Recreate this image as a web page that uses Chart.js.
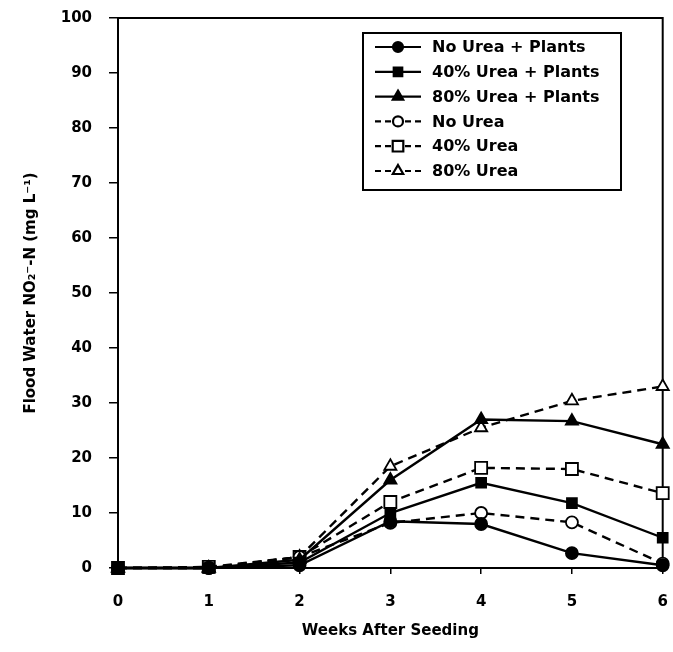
<!DOCTYPE html>
<html>
<head>
<meta charset="utf-8">
<script src="https://cdn.jsdelivr.net/npm/chart.js@4"></script>
<style>
  html, body { margin: 0; padding: 0; background: #fff; }
  #wrap { width: 673px; height: 652px; }
</style>
</head>
<body>
<div id="wrap"><canvas id="nitrit" width="673" height="652"></canvas></div>
<script>
const weeks = [0, 1, 2, 3, 4, 5, 6];
const yTicks = [0, 10, 20, 30, 40, 50, 60, 70, 80, 90, 100];

const seriesNames = ['No Urea + Plants', '40% Urea + Plants', '80% Urea + Plants', 'No Urea', '40% Urea', '80% Urea'];
const noUreaPlants = [0, 0, 0.5, 8.5, 8.0, 2.7, 0.5];
const urea40Plants = [0, 0, 1.0, 10.0, 15.5, 11.8, 5.5];
const urea80Plants = [0, 0, 1.5, 16.0, 27.0, 26.7, 22.5];
const noUrea = [0, 0, 2.0, 8.2, 10.0, 8.3, 0.8];
const urea40 = [0, 0.2, 2.0, 12.0, 18.2, 18.0, 13.6];
const urea80 = [0, 0, 2.0, 18.5, 25.5, 30.4, 33.0];

const font = "'DejaVu Sans', Verdana, sans-serif";

function mkSet(label, values, shape, filled) {
  let r = 6;
  if (shape === 'triangle') r = 7;
  if (shape === 'rect') r = filled ? 7 : 8.5;
  return {
    label: label,
    data: weeks.map((w, i) => ({ x: w, y: values[i] })),
    borderColor: '#000',
    borderWidth: 2.4,
    borderDash: filled ? [] : [9, 6],
    pointStyle: shape,
    pointRadius: r,
    pointBorderWidth: 1.8,
    pointBackgroundColor: filled ? '#000' : '#fff',
    pointBorderColor: '#000',
    tension: 0,
    clip: false
  };
}

const datasets = [
  mkSet(seriesNames[0], noUreaPlants, 'circle', true),
  mkSet(seriesNames[1], urea40Plants, 'rect', true),
  mkSet(seriesNames[2], urea80Plants, 'triangle', true),
  mkSet(seriesNames[3], noUrea, 'circle', false),
  mkSet(seriesNames[4], urea40, 'rect', false),
  mkSet(seriesNames[5], urea80, 'triangle', false)
];

// box around the plot + legend in a box (line sample, marker, text)
const frameAndLegend = {
  id: 'frameAndLegend',
  beforeDatasetsDraw(chart) {
    const { ctx, chartArea: a } = chart;
    ctx.save();
    ctx.strokeStyle = '#000';
    ctx.lineWidth = 2;
    ctx.strokeRect(a.left, a.top, a.right - a.left, a.bottom - a.top);
    ctx.restore();
  },
  afterDraw(chart) {
    const ctx = chart.ctx;
    const bx = 363, by = 33, bw = 258, bh = 157;
    ctx.save();
    ctx.fillStyle = '#fff';
    ctx.fillRect(bx, by, bw, bh);
    ctx.strokeStyle = '#000';
    ctx.lineWidth = 2;
    ctx.strokeRect(bx, by, bw, bh);
    ctx.font = 'bold 16px ' + font;
    ctx.textBaseline = 'middle';
    chart.data.datasets.forEach((ds, i) => {
      const y = by + 14 + i * 24.8;
      ctx.strokeStyle = '#000';
      ctx.setLineDash(ds.borderDash.length ? [6, 4] : []);
      ctx.lineWidth = 2.2;
      ctx.beginPath();
      ctx.moveTo(375, y);
      ctx.lineTo(421, y);
      ctx.stroke();
      ctx.setLineDash([]);
      ctx.fillStyle = ds.pointBackgroundColor;
      ctx.strokeStyle = '#000';
      Chart.helpers.drawPoint(ctx, {
        pointStyle: ds.pointStyle,
        radius: ds.pointRadius - 1,
        borderWidth: ds.pointBorderWidth,
        rotation: 0
      }, 398, y);
      ctx.fillStyle = '#000';
      ctx.fillText(ds.label, 432, y + 1);
    });
    ctx.restore();
  }
};

const chart = new Chart(document.getElementById('nitrit'), {
  type: 'line',
  data: { datasets: datasets },
  options: {
    responsive: false,
    animation: false,
    layout: { padding: { top: 18, right: 9, left: 0, bottom: 0 } },
    plugins: {
      legend: { display: false },
      tooltip: { enabled: false }
    },
    scales: {
      x: {
        type: 'linear',
        min: 0,
        max: 6,
        afterFit: s => { s.height = 84; s.paddingLeft = 0; s.paddingRight = 0; },
        afterBuildTicks: s => { s.ticks = weeks.map(v => ({ value: v })); },
        grid: { drawOnChartArea: false, tickLength: 6, color: '#000', lineWidth: 1.5 },
        border: { display: false },
        ticks: { color: '#000', padding: 19, font: { family: font, size: 15, weight: 'bold' } },
        title: {
          display: true,
          text: 'Weeks After Seeding',
          color: '#000',
          padding: { top: 15, bottom: 12 },
          font: { family: font, size: 15, weight: 'bold' }
        }
      },
      y: {
        min: 0,
        max: 100,
        afterFit: s => { s.width = 118; s.paddingTop = 0; s.paddingBottom = 0; },
        afterBuildTicks: s => { s.ticks = yTicks.map(v => ({ value: v })); },
        grid: { drawOnChartArea: false, tickLength: 9, color: '#000', lineWidth: 1.5 },
        border: { display: false },
        ticks: { color: '#000', padding: 17, font: { family: font, size: 15, weight: 'bold' } },
        title: {
          display: true,
          text: 'Flood Water NO\u2082\u207B-N (mg L\u207B\u00B9)',
          color: '#000',
          padding: { top: 22, bottom: 4 },
          font: { family: font, size: 15, weight: 'bold' }
        }
      }
    }
  },
  plugins: [frameAndLegend]
});
</script>
</body>
</html>
